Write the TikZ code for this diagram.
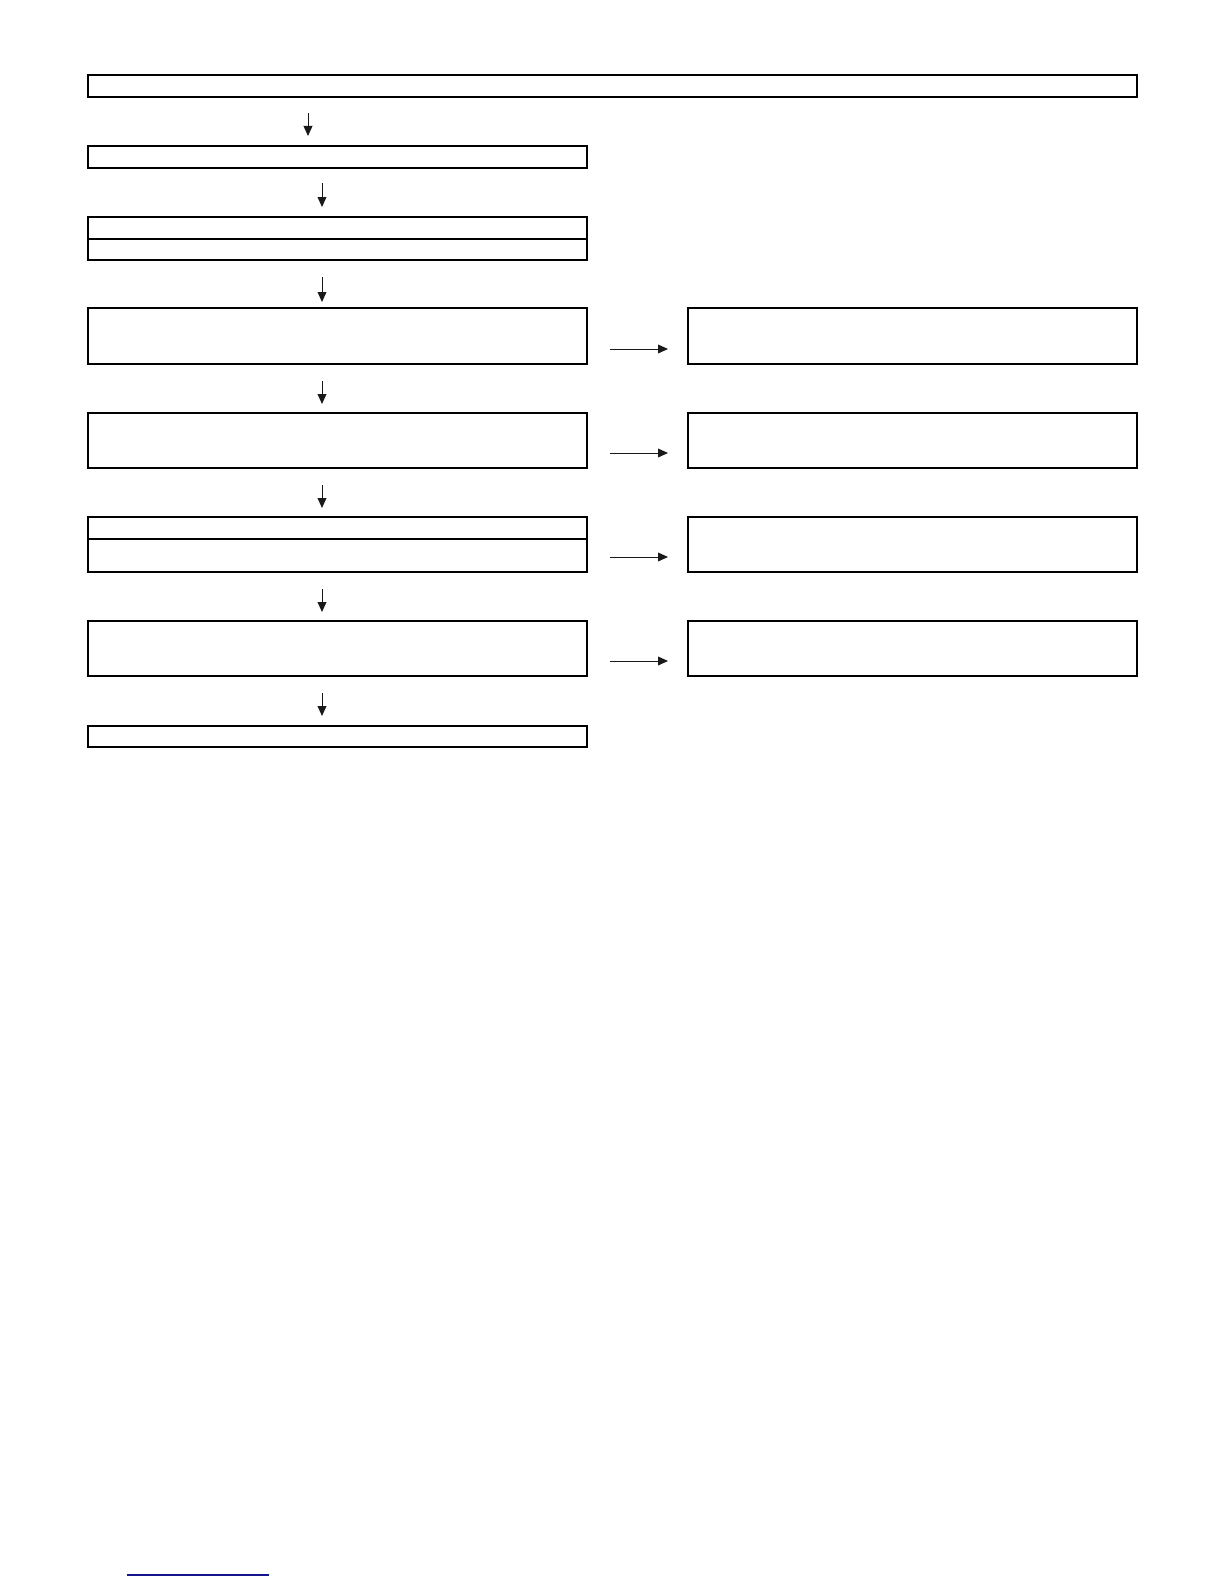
\documentclass[tikz,border=0pt]{standalone}
\usetikzlibrary{arrows.meta}
\begin{document}
\begin{tikzpicture}[x=0.5pt,y=-0.5pt,
  box/.style={draw=black,line width=0.6pt,rectangle,inner sep=0pt,outer sep=0pt},
  arr/.style={draw=black!90,line width=0.5pt,-{Triangle[length=5pt,width=4.4pt]}}]
\useasboundingbox (0,0) rectangle (1224,1584);
% boxes (corner to corner)
\newcommand{\bx}[5]{\node[box,minimum width={(#4-#2)*0.5pt},minimum height={(#5-#3)*0.5pt},anchor=north west] (#1) at (#2,#3) {};}
\bx{top}{88}{75}{1137}{97}
\bx{b2}{88}{146}{587}{168}
\bx{b3a}{88}{217}{587}{239}
\bx{b3b}{88}{239}{587}{260}
\bx{b4}{88}{308}{587}{364}
\bx{r4}{688}{308}{1137}{364}
\bx{b5}{88}{413}{587}{468}
\bx{r5}{688}{413}{1137}{468}
\bx{b6a}{88}{517}{587}{539}
\bx{b6b}{88}{539}{587}{572}
\bx{r6}{688}{517}{1137}{572}
\bx{b7}{88}{621}{587}{676}
\bx{r7}{688}{621}{1137}{676}
\bx{b8}{88}{726}{587}{747}
% vertical arrows
\coordinate (v1s) at (308,113); \coordinate (v1e) at (308,136);
\coordinate (v2s) at (322,183); \coordinate (v2e) at (322,207);
\coordinate (v3s) at (322,277); \coordinate (v3e) at (322,302);
\coordinate (v4s) at (322,381); \coordinate (v4e) at (322,404);
\coordinate (v5s) at (322,485); \coordinate (v5e) at (322,508);
\coordinate (v6s) at (322,589); \coordinate (v6e) at (322,612);
\coordinate (v7s) at (322,693); \coordinate (v7e) at (322,716);
\foreach \i in {1,...,7}{\draw[arr] (v\i s) -- (v\i e);}
% horizontal arrows
\coordinate (h4s) at (610,349); \coordinate (h4e) at (668,349);
\coordinate (h5s) at (610,453); \coordinate (h5e) at (668,453);
\coordinate (h6s) at (610,557); \coordinate (h6e) at (668,557);
\coordinate (h7s) at (610,661); \coordinate (h7e) at (668,661);
\foreach \i in {4,...,7}{\draw[arr] (h\i s) -- (h\i e);}
% blue rule
\coordinate (ls) at (127,1575); \coordinate (le) at (269,1575);
\draw[draw={rgb,255:red,20;green,20;blue,140},line width=0.8pt] (ls) -- (le);
\end{tikzpicture}
\end{document}
